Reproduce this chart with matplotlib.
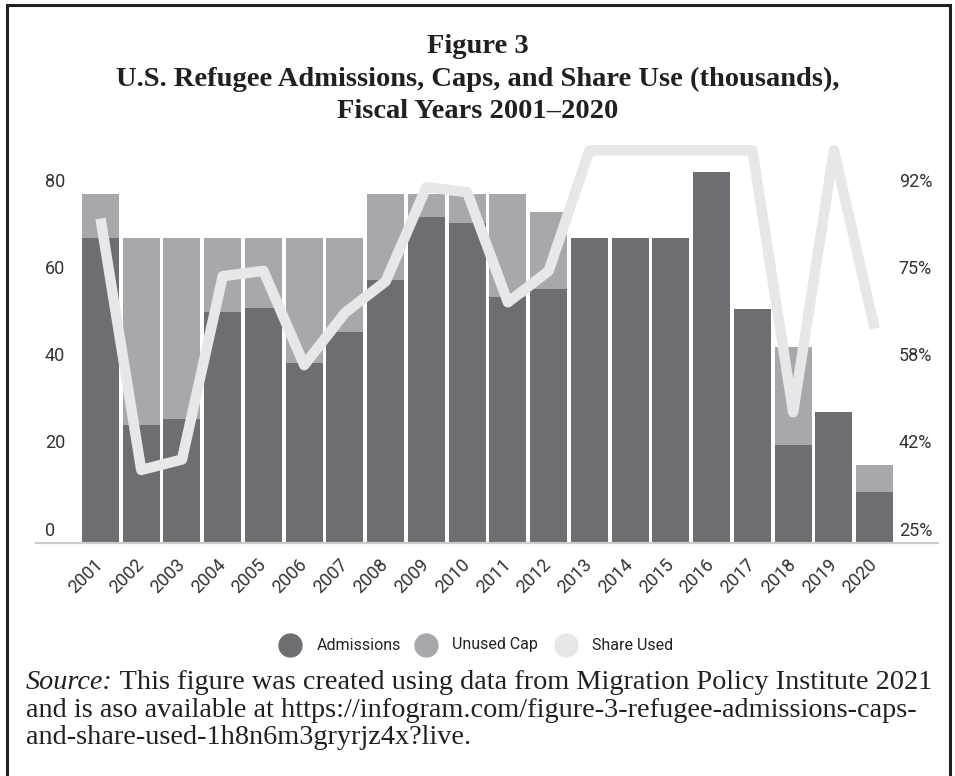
import matplotlib
matplotlib.use('Agg')
import matplotlib.pyplot as plt
import matplotlib.transforms as mtransforms
from matplotlib.lines import Line2D
from matplotlib.patches import Rectangle

# data (thousands / percent)
years = [str(y) for y in range(2001, 2021)]
admissions = [69.9, 27.1, 28.4, 52.9, 53.8, 41.2, 48.3, 60.2, 74.7, 73.3,
              56.4, 58.2, 69.9, 70.0, 69.9, 85.0, 53.7, 22.5, 30.0, 11.8]
unused_cap = [10.1, 42.9, 41.6, 17.1, 16.2, 28.8, 21.7, 19.8, 5.3, 6.7,
              23.6, 17.8, 0.1, 0.0, 0.1, 0.0, 0.0, 22.5, 0.0, 6.2]
share_used = [87, 39, 41, 76, 77, 59, 69, 75, 93, 92,
              71, 77, 100, 100, 100, 100, 100, 50, 100, 66]
left_ticks = [0, 20, 40, 60, 80]
right_ticks = [25, 41.67, 58.33, 75, 91.67]
right_labels = ['25%', '42%', '58%', '75%', '92%']

dark = '#6d6e71'
mid = '#a7a8ab'
light = '#e6e7e8'
ink = '#231f20'
W, H = 955, 776

fig = plt.figure(figsize=(W / 100, H / 100), dpi=100)
fig.patch.set_facecolor('white')

# frame round the figure (bottom edge runs off the picture)
fig.add_artist(Rectangle((6.5 / W, -0.1), (950 - 6.5) / W, (H - 5.5) / H + 0.1,
                         transform=fig.transFigure, fill=False, lw=2.2, ec=ink))

base_px, top_px = 543.3, 150.4
ax = fig.add_axes([36 / W, 1 - base_px / H, 902 / W, (base_px - top_px) / H])
x = list(range(len(years)))
ax.bar(x, admissions, width=0.908, color=dark, label='Admissions')
ax.bar(x, unused_cap, bottom=admissions, width=0.908, color=mid, label='Unused Cap')
ax.set_xlim(-1.583, 20.555)
ax.set_ylim(0, 90)
for s in ['top', 'left', 'right']:
    ax.spines[s].set_visible(False)
ax.spines['bottom'].set_color('#cccccc')
ax.spines['bottom'].set_linewidth(1.6)
ax.set_yticks([])
ax.set_xticks(x)
ax.set_xticklabels(years, rotation=45, ha='right', va='center', rotation_mode='anchor',
                   family='Roboto', fontsize=13, color='#333333')
ax.tick_params(axis='x', length=0, pad=13.5)

ax2 = ax.twinx()
ax2.set_ylim(25, 100)
ax2.plot(x, share_used, color=light, lw=7.5, solid_joinstyle='round',
         solid_capstyle='butt', clip_on=False)
for s in ax2.spines.values():
    s.set_visible(False)
ax2.set_yticks([])

# tick labels sit just above their value
up = mtransforms.ScaledTranslation(0, 12.5 / 100, fig.dpi_scale_trans)
tl = mtransforms.blended_transform_factory(fig.transFigure, ax.transData) + up
for v in left_ticks:
    fig.text(45 / W, v, str(v), transform=tl, ha='left', va='center',
             family='Roboto', fontsize=13, color='#333333')
tr = mtransforms.blended_transform_factory(fig.transFigure, ax2.transData) + up
for v, lab in zip(right_ticks, right_labels):
    fig.text(932 / W, v, lab, transform=tr, ha='right', va='center',
             family='Roboto', fontsize=13, color='#333333')

# title
for txt, yb in [('Figure 3', 53),
                ('U.S. Refugee Admissions, Caps, and Share Use (thousands),', 86),
                ('Fiscal Years 2001\u20132020', 118)]:
    fig.text(478 / W, 1 - yb / H, txt, ha='center', va='baseline',
             family='Liberation Serif', fontweight='bold', fontsize=20.5, color=ink)

# legend
for cx, tx, col, lab in [(290, 317, dark, 'Admissions'),
                         (426, 452, mid, 'Unused Cap'),
                         (566, 592, light, 'Share Used')]:
    fig.add_artist(Line2D([cx / W], [1 - 645 / H], marker='o', markersize=16.5,
                          color=col, lw=0, transform=fig.transFigure))
    fig.text(tx / W, 1 - 645 / H, lab, ha='left', va='center',
             family='Roboto', fontsize=11.5, color='#222222')

# source note
sfont = dict(family='Liberation Serif', fontsize=20.3, color=ink, va='baseline')
t = fig.text(26 / W, 1 - 689 / H, 'Source:', style='italic', **sfont)
fig.canvas.draw()
bb = t.get_window_extent()
fig.text(bb.x1 / W, 1 - 689 / H,
         ' This figure was created using data from Migration Policy Institute 2021', **sfont)
fig.text(26 / W, 1 - 717 / H,
         'and is aso available at https://infogram.com/figure-3-refugee-admissions-caps-', **sfont)
fig.text(26 / W, 1 - 744 / H, 'and-share-used-1h8n6m3gryrjz4x?live.', **sfont)

fig.savefig('out.png', dpi=100)
